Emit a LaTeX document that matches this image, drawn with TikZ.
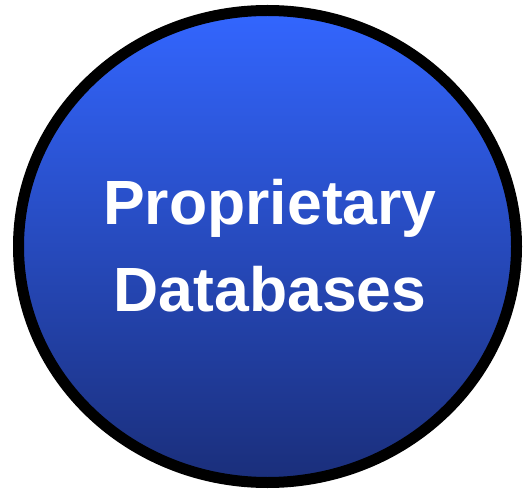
\documentclass[tikz,border=0pt]{standalone}
\usepackage{fontspec}
\setmainfont{Liberation Sans}
\definecolor{dbtop}{RGB}{51,102,255}
\definecolor{dbmid}{RGB}{38,72,200}
\definecolor{dbbottom}{RGB}{26,46,122}
\tikzset{
  dblabel/.style={text=white, font=\bfseries\fontsize{62.5}{87}\selectfont, anchor=base},
}
\begin{document}
\begin{tikzpicture}[x=1pt, y=1pt]
            \useasboundingbox (0,0) rectangle (525,-489);
            \draw[line width=11pt, top color=dbtop, middle color=dbmid, bottom color=dbbottom]
                (267.5,-246.5) ellipse (249 and 236);
            \node[dblabel] (prop) at (270,-225) {Proprietary};
            \node[dblabel] (dbs) at (270,-312) {Databases};
        \end{tikzpicture}
\end{document}
